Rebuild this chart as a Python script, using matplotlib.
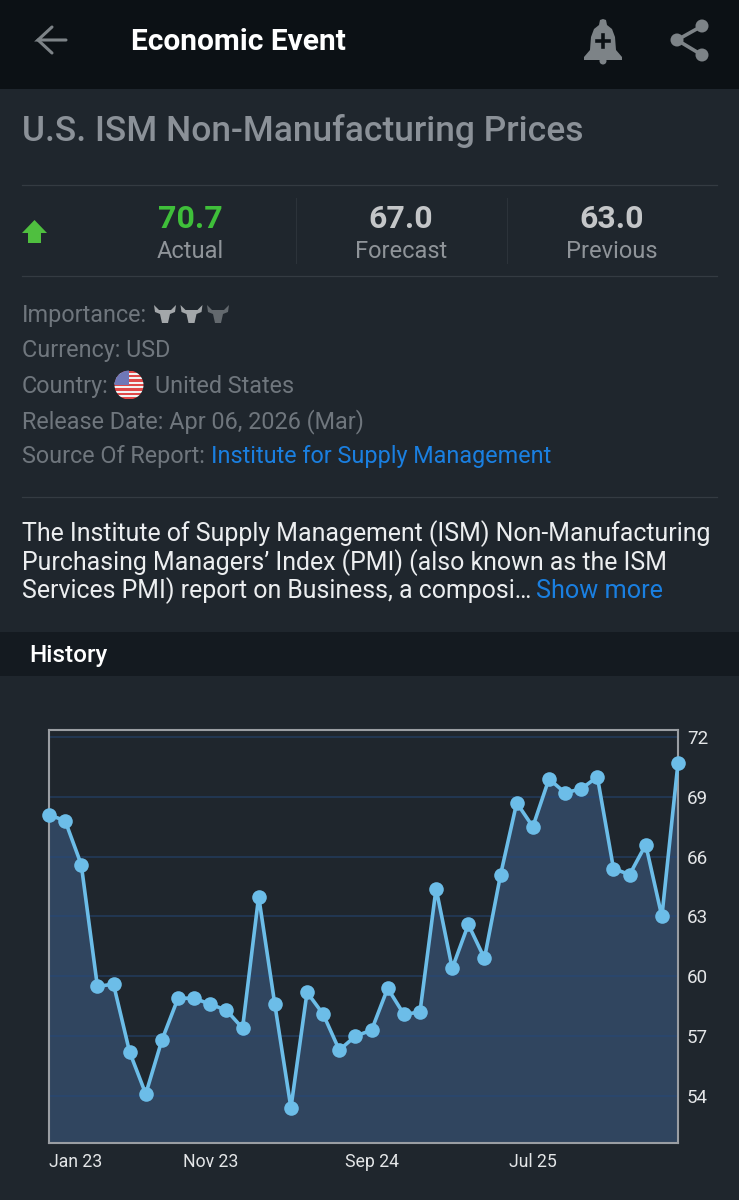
import numpy as np
import matplotlib
matplotlib.use("Agg")
import matplotlib.pyplot as plt
from matplotlib.patches import Circle, Polygon, Rectangle

plt.rcParams["font.family"] = ["Roboto", "DejaVu Sans"]

# --- data
months = np.arange(40)
values = [68.1, 67.8, 65.6, 59.5, 59.6, 56.2, 54.1, 56.8, 58.9, 58.9,
          58.6, 58.3, 57.4, 64.0, 58.6, 53.4, 59.2, 58.1, 56.3, 57.0,
          57.3, 59.4, 58.1, 58.2, 64.4, 60.4, 62.6, 60.9, 65.1, 68.7,
          67.5, 69.9, 69.2, 69.4, 70.0, 65.4, 65.1, 66.6, 63.0, 70.7]
y_ticks = [54, 57, 60, 63, 66, 69, 72]
x_tick_pos = [0, 10, 20, 30]
x_tick_labels = ["Jan 23", "Nov 23", "Sep 24", "Jul 25"]

stat_values = ["70.7", "67.0", "63.0"]
stat_names = ["Actual", "Forecast", "Previous"]
stat_colors = ["#3fbf3a", "#c4c6c8", "#c4c6c8"]
stat_x = [190.5, 401, 612]

W, H = 739, 1200
BG = "#1f262d"
GREY = "#6f767d"

fig = plt.figure(figsize=(W / 100, H / 100), dpi=100, facecolor=BG)

# whole-page axes in pixel coordinates for the app screen around the chart
ui = fig.add_axes([0, 0, 1, 1])
ui.set_xlim(0, W)
ui.set_ylim(H, 0)
ui.axis("off")


def txt(x, y, s, size, color, weight="normal", ha="left"):
    return ui.text(x, y, s, fontsize=size, color=color, fontweight=weight, ha=ha, va="baseline")


# bars
ui.add_patch(Rectangle((0, 0), W, 89, fc="#0c1115", ec="none"))
ui.add_patch(Rectangle((0, 632), W, 44, fc="#141a20", ec="none"))

# back arrow
ui.plot([66, 38, 52], [40, 40, 27], color="#7d8387", lw=2.2, solid_capstyle="round", solid_joinstyle="miter")
ui.plot([38, 52], [40, 53], color="#7d8387", lw=2.2, solid_capstyle="round")
txt(131, 50, "Economic Event", 21.5, "white", "bold")

# bell
bell = [(603, 19), (606, 20), (607, 25), (612, 29), (615, 37), (616, 50), (622, 57), (622, 60),
        (584, 60), (584, 57), (590, 50), (591, 37), (594, 29), (599, 25), (600, 20)]
ui.add_patch(Polygon(bell, fc="#7d8387", ec="none"))
ui.add_patch(Circle((603, 61), 3.5, fc="#7d8387", ec="none"))
ui.plot([597, 609], [41, 41], color="#0c1115", lw=2.6)
ui.plot([603, 603], [35, 47], color="#0c1115", lw=2.6)

# share
ui.plot([702, 677, 702], [26, 40, 55], color="#7d8387", lw=2.6)
for cx, cy in [(702, 26), (677, 40), (702, 55)]:
    ui.add_patch(Circle((cx, cy), 6.5, fc="#7d8387", ec="none"))

txt(22, 141, "U.S. ISM Non-Manufacturing Prices", 25.5, "#8b9198", "medium")

# stats row
for y in [185, 276, 497]:
    ui.plot([22, 717], [y, y], color="#343b42", lw=0.9)
for x in [296, 507]:
    ui.plot([x, x], [198, 263], color="#2c333a", lw=0.8)
ui.add_patch(Polygon([(34.5, 220), (47, 233), (41, 233), (41, 243), (28, 243), (28, 233), (22, 233)], fc="#4fbf3f", ec="none"))
for x, v, n, c in zip(stat_x, stat_values, stat_names, stat_colors):
    txt(x, 228, v, 23, c, "bold", "center")
    txt(x, 258, n, 17, "#8f9499", "normal", "center")

# details block
txt(22, 322, "Importance:", 16.8, GREY)
txt(22, 357, "Currency: USD", 16.8, GREY)
txt(22, 393, "Country:", 16.8, GREY)
txt(155, 393, "United States", 16.8, GREY)
txt(22, 428, "Release Date: Apr 06, 2026 (Mar)", 16.8, GREY)
txt(22, 463, "Source Of Report:", 16.8, GREY)
txt(211, 463, "Institute for Supply Management", 16.8, "#1a7fe0")

# bull icons for importance
bull = np.array([(-11, -9), (-6, -4), (6, -4), (11, -9), (10, -2), (5, 0), (3, 9), (-3, 9), (-5, 0), (-10, -2)])
for cx, col in zip([165, 191.5, 218], ["#a3a7aa", "#a3a7aa", "#63696e"]):
    ui.add_patch(Polygon(bull + [cx, 314], fc=col, ec="none"))

# flag
clip = Circle((129, 385), 14.5, transform=ui.transData)
for i in range(13):
    band = Rectangle((114, 370.5 + i * 2.23), 30, 2.23, fc="#e04848" if i % 2 == 0 else "#f2f2f2", ec="none")
    ui.add_patch(band)
    band.set_clip_path(clip)
canton = Rectangle((114, 370), 15, 15, fc="#6f78b8", ec="none")
ui.add_patch(canton)
canton.set_clip_path(clip)

# description
body = "#eceef0"
txt(22, 541.5, "The Institute of Supply Management (ISM) Non-Manufacturing", 17.9, body)
txt(22, 570, "Purchasing Managers\u2019 Index (PMI) (also known as the ISM", 17.9, body)
txt(22, 598.5, "Services PMI) report on Business, a composi\u2026", 17.9, body)
txt(536, 598.5, "Show more", 18.2, "#1a7fe0")
txt(29, 662, "History", 17.5, "white", "medium")

# --- the chart itself
ax = fig.add_axes([49 / W, 1 - 1143 / H, (678 - 49) / W, (1143 - 730) / H], facecolor="#1f262d")
ax.set_xlim(0, 39)
ax.set_ylim(51.64, 72.35)
ax.fill_between(months, values, 51.64, color="#30455f", lw=0, zorder=1)
ax.hlines(y_ticks, 0, 39, color="#25497c", alpha=0.6, lw=1.1, zorder=2)
ax.plot(months, values, color="#6cbde8", lw=2.6, marker="o", ms=10.5, mew=0, clip_on=False, zorder=5)

for s in ax.spines.values():
    s.set_color("#9a9ea3")
    s.set_linewidth(1.5)

ax.yaxis.tick_right()
ax.set_yticks(y_ticks)
ax.set_yticklabels([str(t) for t in y_ticks])
ax.set_xticks(x_tick_pos)
ax.set_xticklabels(x_tick_labels)
ax.get_xticklabels()[0].set_ha("left")
ax.tick_params(axis="y", length=0, pad=6.5, labelsize=13.5, labelcolor="#e4e6e8")
ax.tick_params(axis="x", length=0, pad=7, labelsize=12.7, labelcolor="#e4e6e8")

fig.savefig("out.png", dpi=100, facecolor=BG)
